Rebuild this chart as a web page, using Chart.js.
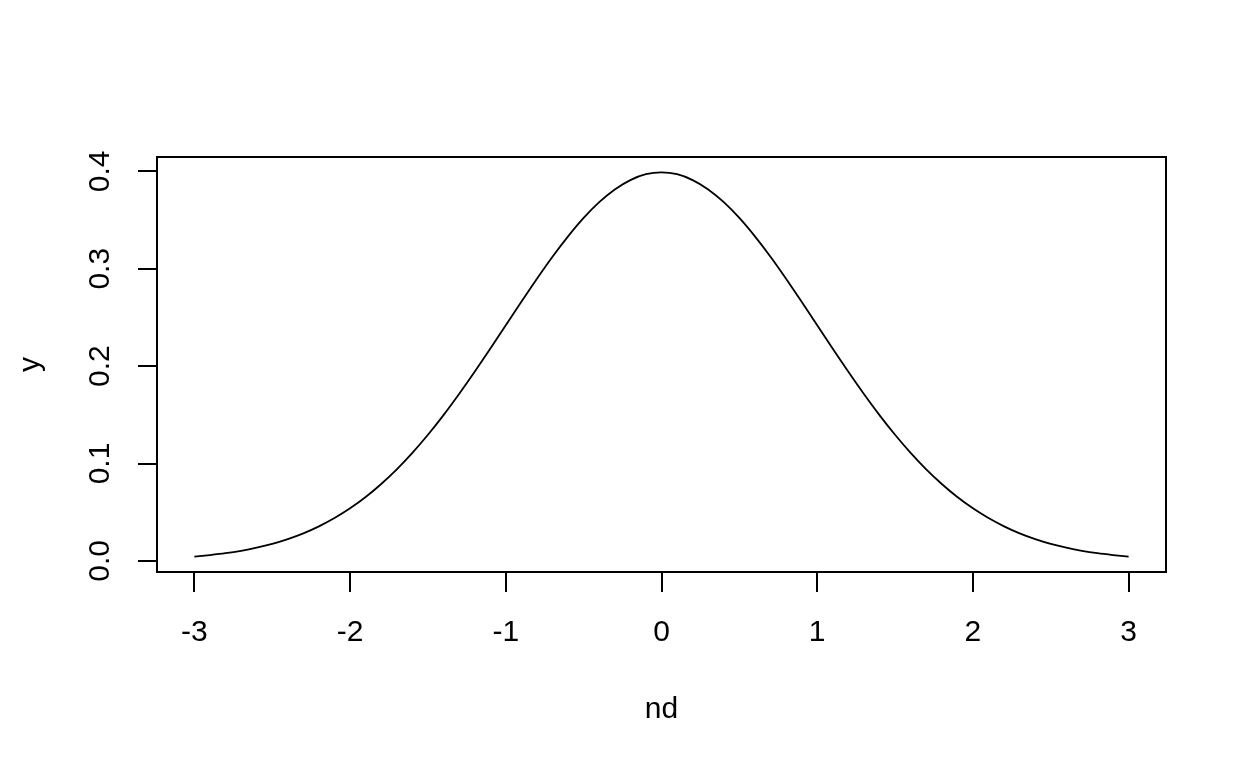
<!DOCTYPE html>
<html><head><meta charset="utf-8">
<script src="https://cdn.jsdelivr.net/npm/chart.js@4/dist/chart.umd.min.js"></script>
<style>html,body{margin:0;padding:0;background:#fff;}canvas{display:block;}</style>
</head><body>
<canvas id="c" width="1248" height="768"></canvas>
<script>
// Values
const ndValues = [-3.0,-2.9,-2.8,-2.7,-2.6,-2.5,-2.4,-2.3,-2.2,-2.1,-2.0,-1.9,-1.8,-1.7,-1.6,-1.5,-1.4,-1.3,-1.2,-1.1,-1.0,-0.9,-0.8,-0.7,-0.6,-0.5,-0.4,-0.3,-0.2,-0.1,0.0,0.1,0.2,0.3,0.4,0.5,0.6,0.7,0.8,0.9,1.0,1.1,1.2,1.3,1.4,1.5,1.6,1.7,1.8,1.9,2.0,2.1,2.2,2.3,2.4,2.5,2.6,2.7,2.8,2.9,3.0];
const yValues = [0.0044,0.0060,0.0079,0.0104,0.0136,0.0175,0.0224,0.0283,0.0355,0.0440,0.0540,0.0656,0.0790,0.0940,0.1109,0.1295,0.1497,0.1714,0.1942,0.2179,0.2420,0.2661,0.2897,0.3123,0.3332,0.3521,0.3683,0.3814,0.3910,0.3970,0.3989,0.3970,0.3910,0.3814,0.3683,0.3521,0.3332,0.3123,0.2897,0.2661,0.2420,0.2179,0.1942,0.1714,0.1497,0.1295,0.1109,0.0940,0.0790,0.0656,0.0540,0.0440,0.0355,0.0283,0.0224,0.0175,0.0136,0.0104,0.0079,0.0060,0.0044];
const xTickValues = [-3,-2,-1,0,1,2,3];
const yTickValues = [0.0,0.1,0.2,0.3,0.4];
const xTitle = 'nd';
const yTitle = 'y';

const FONT = {family: '"Liberation Sans", Arial, sans-serif', size: 30};

const boxPlugin = {
  id: 'box',
  afterDatasetsDraw(chart) {
    const {ctx, chartArea: a} = chart;
    ctx.save();
    ctx.strokeStyle = '#000';
    ctx.lineWidth = 2;
    ctx.strokeRect(a.left, a.top, a.right - a.left, a.bottom - a.top);
    ctx.restore();
  }
};

new Chart(document.getElementById('c'), {
  type: 'line',
  data: {
    datasets: [{
      data: ndValues.map((x, i) => ({x: x, y: yValues[i]})),
      borderColor: '#000',
      borderWidth: 1.8,
      pointRadius: 0,
      tension: 0.25,
      fill: false
    }]
  },
  options: {
    responsive: false,
    animation: false,
    devicePixelRatio: 1,
    layout: {padding: {left: 0, top: 157, right: 82, bottom: 0}},
    plugins: {legend: {display: false}, tooltip: {enabled: false}},
    scales: {
      x: {
        type: 'linear',
        min: -3.24, max: 3.24,
        afterBuildTicks: s => { s.ticks = xTickValues.map(v => ({value: v})); },
        afterFit: s => { s.height = 196; },
        grid: {drawOnChartArea: false, drawTicks: true, tickLength: 20, color: '#000', lineWidth: 2},
        border: {display: false},
        ticks: {color: '#000', font: FONT, padding: 23, maxRotation: 0, autoSkip: false,
                callback: v => String(v)},
        title: {display: true, text: xTitle, color: '#000', font: FONT, padding: {top: 0, bottom: 40}}
      },
      y: {
        type: 'linear',
        min: -0.0114, max: 0.4147,
        afterBuildTicks: s => { s.ticks = yTickValues.map(v => ({value: v})); },
        afterFit: s => { s.width = 157; },
        grid: {drawOnChartArea: false, drawTicks: true, tickLength: 19, color: '#000', lineWidth: 2},
        border: {display: false},
        ticks: {color: '#000', font: FONT, padding: 16, minRotation: 90, maxRotation: 90, crossAlign: 'center', autoSkip: false,
                callback: v => v.toFixed(1)},
        title: {display: true, text: yTitle, color: '#000', font: FONT, padding: {top: 13, bottom: 0}}
      }
    }
  },
  plugins: [boxPlugin]
});
</script>
</body></html>
